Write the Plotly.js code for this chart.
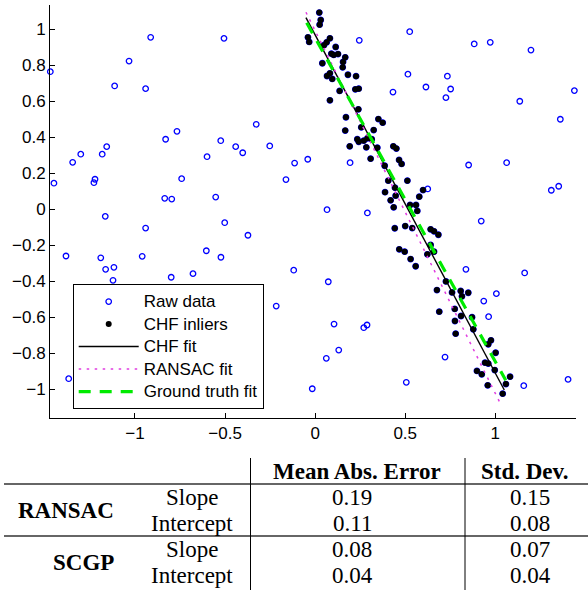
<!DOCTYPE html>
<html><head><meta charset="utf-8">
<script src="https://cdn.plot.ly/plotly-3.0.1.min.js"></script>
<style>html,body{margin:0;padding:0;background:#fff}#chart{width:588px;height:590px}</style>
</head><body><div id="chart"></div>
<script>
// ---- data ----
const outlierX = [-1.470,-1.450,-1.346,-1.301,-1.222,-1.228,-1.182,-1.157,-1.113,-1.033,-0.941,-0.913,-0.830,-0.767,-0.741,-0.835,-0.796,-0.506,0.245,0.432,-0.327,-0.524,-0.441,-0.402,-0.252,-0.600,-0.114,-0.041,0.194,-0.162,-0.552,0.525,0.883,0.972,1.198,0.515,0.734,0.615,0.752,0.726,1.136,1.439,1.450,1.361,0.852,1.063,1.311,1.352,0.625,-1.383,-1.165,-0.941,-1.190,-1.163,-1.117,-1.122,-0.960,-0.799,-0.678,-1.368,0.066,0.290,-0.502,-0.373,-0.604,-0.523,-0.119,0.073,-0.216,0.105,0.270,0.288,0.131,0.062,-0.016,0.922,0.837,1.163,1.006,0.936,0.963,0.721,0.506,1.158,1.404];
const outlierY = [0.763,0.144,0.260,0.305,0.166,0.147,0.305,0.347,0.684,0.822,0.669,0.954,0.388,0.432,0.169,0.060,0.056,0.948,0.937,0.650,0.471,0.380,0.347,0.313,0.351,0.291,0.256,0.277,0.258,0.164,0.067,0.985,0.917,0.926,0.883,0.749,0.738,0.678,0.667,0.619,0.599,0.658,0.539,0.499,0.245,0.258,0.105,0.127,0.112,-0.260,-0.040,-0.105,-0.270,-0.334,-0.323,-0.395,-0.262,-0.378,-0.358,-0.941,-0.003,-0.021,-0.075,-0.145,-0.231,-0.267,-0.339,-0.403,-0.538,-0.638,-0.658,-0.643,-0.782,-0.828,-0.997,-0.066,-0.334,-0.354,-0.469,-0.510,-0.597,-0.821,-0.961,-0.980,-0.945];
const inlierX = [0.023,0.031,0.025,-0.040,-0.033,0.082,0.064,0.049,0.114,0.090,0.103,0.127,0.167,0.155,0.153,0.040,0.082,0.066,0.095,0.182,0.227,0.223,0.242,0.136,0.082,0.240,0.171,0.351,0.375,0.256,0.325,0.167,0.234,0.242,0.270,0.290,0.314,0.192,0.284,0.345,0.434,0.451,0.308,0.466,0.480,0.386,0.406,0.512,0.443,0.388,0.447,0.599,0.578,0.419,0.527,0.560,0.436,0.567,0.442,0.500,0.539,0.641,0.660,0.684,0.467,0.497,0.641,0.660,0.623,0.530,0.558,0.726,0.676,0.760,0.808,0.850,0.815,0.775,0.689,0.810,0.871,0.776,0.780,0.878,0.976,0.961,1.002,0.943,0.961,0.997,0.898,0.925,1.082,1.059,0.958,1.041];
const inlierY = [1.091,1.050,1.024,0.954,0.928,0.948,0.926,0.910,0.900,0.863,0.856,0.861,0.843,0.817,0.787,0.810,0.754,0.739,0.723,0.746,0.738,0.665,0.669,0.656,0.604,0.554,0.510,0.500,0.480,0.454,0.439,0.436,0.388,0.374,0.380,0.393,0.388,0.349,0.343,0.341,0.349,0.336,0.280,0.273,0.251,0.241,0.158,0.158,0.119,0.094,0.075,0.106,0.069,0.049,0.023,0.023,0.010,-0.010,-0.106,-0.094,-0.105,-0.112,-0.123,-0.142,-0.223,-0.236,-0.199,-0.236,-0.251,-0.277,-0.317,-0.401,-0.449,-0.462,-0.454,-0.464,-0.484,-0.554,-0.569,-0.593,-0.600,-0.621,-0.691,-0.667,-0.728,-0.750,-0.797,-0.852,-0.857,-0.893,-0.898,-0.917,-0.930,-0.971,-0.978,-1.024];
const chfFitX = [-0.051, 1.050];
const chfFitY = [1.063, -1.004];
const ransacFitX = [-0.051, 1.032];
const ransacFitY = [1.093, -1.087];
const truthFitX = [-0.047, 1.058];
const truthFitY = [1.035, -0.950];
const xTicks = [-1, -0.5, 0, 0.5, 1];
const yTicks = [-1, -0.8, -0.6, -0.4, -0.2, 0, 0.2, 0.4, 0.6, 0.8, 1];
const seriesNames = ['Raw data', 'CHF inliers', 'CHF fit', 'RANSAC fit', 'Ground truth fit'];
const methods = ['RANSAC', 'SCGP'];
const params = ['Slope', 'Intercept'];
const columns = ['Mean Abs. Error', 'Std. Dev.'];
const meanAbsError = [[0.19, 0.11], [0.08, 0.04]];
const stdDev = [[0.15, 0.08], [0.07, 0.04]];

// ---- helpers ----
const W = 588, H = 590, ML = 50, MR = 12, MT = 5, MB = 172;
const PW = W - ML - MR, PH = H - MT - MB;
const xp = px => (px - ML) / PW;
const yp = py => (H - MB - py) / PH;
const fmt = v => v === 0 ? '0' : (v < 0 ? '\u2212' : '') + String(Math.abs(v));
const sans = "'Liberation Sans', Arial, Helvetica, sans-serif";
const serif = "'Liberation Serif', 'Times New Roman', Times, serif";
const lg = s => '<span style="font-size:17px">' + s + '</span>';

const traces = [
  {x: outlierX.concat(inlierX), y: outlierY.concat(inlierY), mode: 'markers', name: lg(seriesNames[0]), cliponaxis: false,
   marker: {symbol: 'circle-open', size: 5.5, color: 'rgb(0,0,255)', line: {width: 1.3, color: 'rgb(0,0,255)'}}},
  {x: inlierX, y: inlierY, mode: 'markers', name: lg(seriesNames[1]),
   marker: {symbol: 'circle', size: 6, color: 'black'}},
  {x: chfFitX, y: chfFitY, mode: 'lines', name: lg(seriesNames[2]), line: {color: 'black', width: 1.4}},
  {x: ransacFitX, y: ransacFitY, mode: 'lines', name: lg(seriesNames[3]), line: {color: 'rgb(225,60,225)', width: 1.5, dash: '2.5px,5.5px'}},
  {x: truthFitX, y: truthFitY, mode: 'lines', name: lg(seriesNames[4]), line: {color: 'rgb(0,235,0)', width: 3.2, dash: '12px,9px'}}
];

const tf = 23;
const ann = [];
const shapes = [];
const headerY = 471, colX = [357, 525], valX = [352, 530];
const rowY = [[497, 523], [549, 575]];
const groupY = [510, 562];
const tfont = {family: serif, size: tf, color: 'black'};
columns.forEach((c, i) => ann.push({xref: 'paper', yref: 'paper', x: xp(colX[i]), y: yp(headerY), text: '<b>' + c + '</b>',
  showarrow: false, xanchor: 'center', yanchor: 'middle', font: tfont}));
methods.forEach((m, g) => {
  ann.push({xref: 'paper', yref: 'paper', x: xp(116), y: yp(groupY[g]), text: '<b>' + m + '</b>', showarrow: false,
    xanchor: 'right', yanchor: 'middle', font: tfont});
  params.forEach((p, r) => {
    ann.push({xref: 'paper', yref: 'paper', x: xp(192), y: yp(rowY[g][r]), text: p, showarrow: false,
      xanchor: 'center', yanchor: 'middle', font: tfont});
    ann.push({xref: 'paper', yref: 'paper', x: xp(valX[0]), y: yp(rowY[g][r]), text: meanAbsError[g][r].toFixed(2), showarrow: false,
      xanchor: 'center', yanchor: 'middle', font: tfont});
    ann.push({xref: 'paper', yref: 'paper', x: xp(valX[1]), y: yp(rowY[g][r]), text: stdDev[g][r].toFixed(2), showarrow: false,
      xanchor: 'center', yanchor: 'middle', font: tfont});
  });
});
[484, 536].forEach(py => shapes.push({type: 'line', xref: 'paper', yref: 'paper', x0: xp(4), x1: xp(588), y0: yp(py), y1: yp(py),
  line: {color: '#666', width: 2}}));
[250.5, 465].forEach(px => shapes.push({type: 'line', xref: 'paper', yref: 'paper', x0: xp(px), x1: xp(px), y0: yp(458), y1: yp(592),
  line: {color: 'black', width: 1}}));

const axisCommon = {ticks: 'inside', ticklen: 5, tickwidth: 1, tickcolor: 'black', showline: true, linecolor: 'black', linewidth: 1,
  showgrid: false, zeroline: false, tickfont: {family: sans, size: 17, color: 'black'}, fixedrange: true};

const layout = {
  width: W, height: H, margin: {l: ML, r: MR, t: MT, b: MB, pad: 0},
  paper_bgcolor: 'white', plot_bgcolor: 'white',
  font: {family: sans, size: 17, color: 'black'},
  xaxis: Object.assign({range: [-1.4718, 1.448], tickmode: 'array', tickvals: xTicks, ticktext: xTicks.map(fmt)}, axisCommon),
  yaxis: Object.assign({range: [-1.1593, 1.1332], tickmode: 'array', tickvals: yTicks, ticktext: yTicks.map(fmt)}, axisCommon),
  showlegend: true,
  legend: {x: xp(72.7), y: yp(284.3), xanchor: 'left', yanchor: 'top', bgcolor: 'white', bordercolor: 'black', borderwidth: 1,
    font: {family: sans, size: 15, color: 'black'}, itemwidth: 60, traceorder: 'normal'},
  shapes: shapes, annotations: ann
};
Plotly.newPlot('chart', traces, layout, {displayModeBar: false, staticPlot: true});
</script></body></html>
